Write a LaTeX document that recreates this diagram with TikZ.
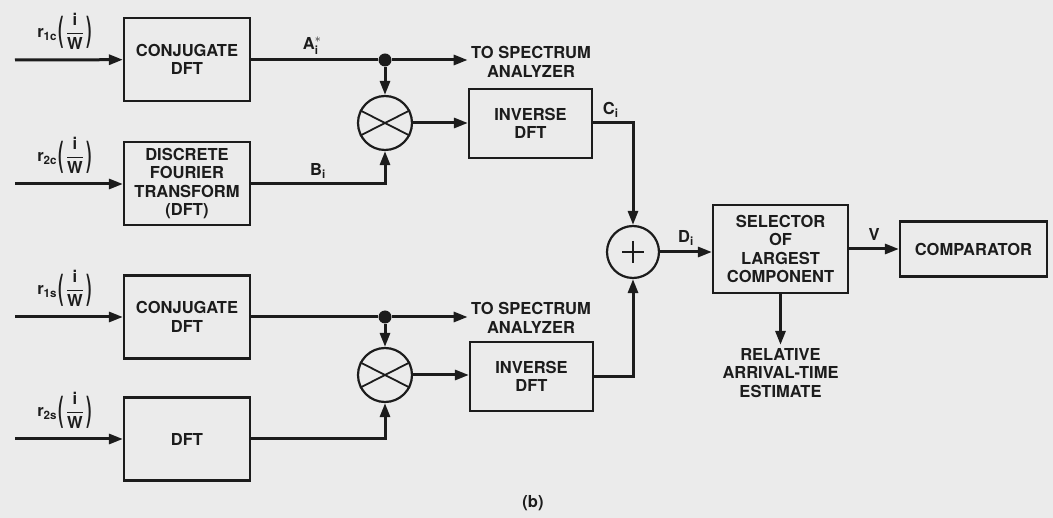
\documentclass[tikz,border=0pt]{standalone}
\usepackage{amsmath}
\usepackage{graphicx}
\usepackage{fontspec}
\setmainfont{TeX Gyre Heros}
\usepackage{tikz}
\usetikzlibrary{arrows.meta,positioning,calc}
\definecolor{paper}{HTML}{EBEBEB}
\definecolor{ink}{HTML}{1C1C1C}
\newcommand{\tallpar}[1]{\raisebox{-4.5pt}{\scalebox{1}[2.1]{#1}}}
\newcommand{\rin}[1]{r\textsubscript{#1}\kern1pt\tallpar{(}\kern2.5pt$\dfrac{\text{i}}{\text{W}}$\kern2.5pt\tallpar{)}}

\begin{document}
\begin{tikzpicture}[
  x=1pt,y=-1pt,
  font=\fontsize{16.5}{18.5}\selectfont\bfseries,
  every node/.style={align=center,text=ink},
  blk/.style={draw=ink,line width=2.2pt,minimum width=126pt,
              minimum height=83pt,inner sep=2pt},
  sig/.style={draw=ink,line width=3pt,-{Triangle[length=14pt,width=10pt]}},
  wire/.style={draw=ink,line width=3pt},
  mix/.style={circle,draw=ink,line width=2.2pt,minimum size=54pt,inner sep=0pt},
  tap/.style={circle,fill=ink,minimum size=13pt,inner sep=0pt},
  inlbl/.style={pos=.46,above=9pt,inner sep=0pt}
]
\fill[paper] (0,0) rectangle (1053,518);
\useasboundingbox (0,0) rectangle (1053,518);

% Inputs
\coordinate (in1c) at (15,60);
\coordinate (in2c) at (15,184);
\coordinate (in1s) at (15,317);
\coordinate (in2s) at (15,439);

% Blocks
\node[blk] (conjc) at (187,59.5)  {CONJUGATE\\DFT};
\node[blk] (dftc)  at (187,183.5) {DISCRETE\\FOURIER\\TRANSFORM\\(DFT)};
\node[blk] (conjs) at (187,317)   {CONJUGATE\\DFT};
\node[blk] (dfts)  at (187,439)   {DFT};

\node[mix] (mulc) at (385,123) {};
\node[mix] (muls) at (385,375) {};
\node[tap] (tapc) at (385,60)  {};
\node[tap] (taps) at (385,317) {};

\node[blk,minimum width=123pt,minimum height=69pt] (invc) at (530.5,123.5) {INVERSE\\DFT};
\node[blk,minimum width=123pt,minimum height=69pt] (invs) at (531.5,376.5) {INVERSE\\DFT};
\node (specc) at (531,62)  {TO SPECTRUM\\ANALYZER};
\node (specs) at (531,318) {TO SPECTRUM\\ANALYZER};

\node[mix,minimum size=52pt] (sum) at (633,252) {};
\node[blk,minimum width=135pt,minimum height=88pt] (sel) at (780.5,249)
  {SELECTOR\\OF\\LARGEST\\COMPONENT};
\node[blk,minimum width=147pt,minimum height=55pt] (comp) at (973.5,249) {COMPARATOR};
\node (est) at (780.5,373) {RELATIVE\\ARRIVAL-TIME\\ESTIMATE};
\node (capb) at (533,503) {(b)};

% Multiplier and adder marks
\draw[ink,line width=1.8pt] (mulc.153) -- (mulc.-27) (mulc.27) -- (mulc.207);
\draw[ink,line width=1.8pt] (muls.153) -- (muls.-27) (muls.27) -- (muls.207);
\draw[ink,line width=1.8pt] ($(sum)+(-11,0)$) -- ($(sum)+(11,0)$)
  ($(sum)+(0,-11)$) -- ($(sum)+(0,11)$);

% Cosine channel
\draw[sig] (in1c) -- node[inlbl]{\rin{1c}} (conjc);
\draw[sig] (in2c) -- node[inlbl]{\rin{2c}} (dftc.west|-in2c);
\draw[wire] (conjc.east|-tapc) -- node[pos=.48,above=1pt]{$\text{A}^{*}_{\text{i}}$} (tapc);
\draw[sig] (tapc) -- (specc.west|-tapc);
\draw[sig] (tapc) -- (mulc);
\draw[sig] (dftc.east|-in2c) -| node[pos=.25,above=1pt]{$\text{B}_{\text{i}}$} (mulc.south);
\draw[sig] (mulc) -- (invc.west|-mulc);
\draw[sig] (invc.east|-mulc) -| node[pos=.22,above=1pt]{$\text{C}_{\text{i}}$} (sum.north);

% Sine channel
\draw[sig] (in1s) -- node[inlbl]{\rin{1s}} (conjs);
\draw[sig] (in2s) -- node[inlbl]{\rin{2s}} (dfts);
\draw[wire] (conjs.east|-taps) -- (taps);
\draw[sig] (taps) -- (specs.west|-taps);
\draw[sig] (taps) -- (muls);
\draw[sig] (dfts.east) -| (muls.south);
\draw[sig] (muls) -- (invs.west|-muls);
\draw[sig] (invs.east) -| (sum.south);

% Decision
\draw[sig] (sum) -- node[above=2pt]{$\text{D}_{\text{i}}$} (sel.west|-sum);
\draw[sig] (sel) -- node[above=4pt]{V} (comp);
\draw[sig] (sel.south) -- (sel.south|-est.north);
\end{tikzpicture}
\end{document}
